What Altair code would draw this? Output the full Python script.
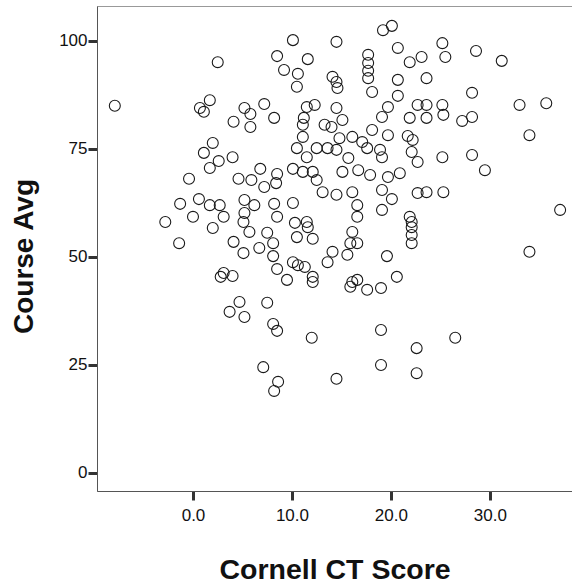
import altair as alt
import pandas as pd

# Cornell CT Score (x) and Course Avg (y)
cornell = [
    -7.9, 2.5, 1.7, 0.7, 1.1, 5.2, 5.8, 7.2, 8.2, 4.1, 5.8, 2.0, 1.1, 2.6, 4.0, 1.7,
    -0.4, 4.6, 5.9, 6.8, 7.2, 8.5, 8.4, -1.3, 0.6, 1.7, 2.7, 0.0, -2.8, 3.1, 2.0, 5.2,
    6.2, 5.2, 5.1, 5.7, 8.2, 8.5, -1.4, 4.1, 6.7, 7.5, 8.1, 5.1, 8.1, 8.5, 2.8, 3.1,
    4.0, 4.7, 3.7, 5.2, 7.5, 8.1, 8.5, 7.1, 8.6, 8.2, 8.5, 9.2, 9.5,
    10.1, 11.6, 10.6, 10.5, 11.5, 12.3, 11.2, 11.1, 11.1, 10.5, 12.5, 13.6, 13.3, 14.0,
    10.1, 11.5, 11.1, 12.1, 12.5, 13.1, 10.1, 10.3, 11.5, 11.6, 10.5, 12.1, 10.1, 10.6,
    11.3, 12.1, 12.1, 13.6, 14.1, 12.0,
    14.5, 19.2, 20.1, 14.1, 14.5, 14.6, 17.7, 17.7, 17.7, 17.7, 18.1, 20.7, 20.7, 20.7,
    19.7, 19.1, 18.1, 19.7, 14.5, 15.1, 14.8, 16.1, 17.1, 14.5, 15.7, 17.6, 18.9, 19.1,
    16.7, 15.1, 17.9, 19.7, 20.9, 19.1, 20.1, 14.5, 16.1, 16.6, 19.1, 16.6, 16.1, 15.9,
    16.6, 15.6, 19.6, 20.6, 16.1, 16.6, 15.9, 17.6, 19.0, 19.0, 19.0, 14.5,
    21.9, 23.1, 25.2, 25.5, 23.6, 28.6, 31.2, 21.9, 22.7, 23.6, 23.6, 25.2, 25.3, 21.7,
    22.2, 22.1, 22.7, 25.2, 22.7, 23.6, 25.3, 21.9, 22.1, 22.1, 22.1, 22.1, 28.2, 27.2,
    28.2, 33.0, 35.7, 34.0, 28.2, 29.5, 37.1, 34.0, 26.5, 22.6, 22.6,
]
course_avg = [
    85.0, 95.1, 86.3, 84.5, 83.6, 84.5, 83.1, 85.4, 82.2, 81.3, 80.1, 76.4, 74.1, 72.2, 73.1, 70.6,
    68.1, 68.1, 67.8, 70.4, 66.2, 69.2, 67.1, 62.3, 63.4, 62.0, 62.0, 59.3, 58.1, 59.3, 56.7, 63.2,
    62.0, 60.2, 58.1, 55.8, 62.3, 59.3, 53.2, 53.5, 52.1, 55.6, 53.2, 50.9, 50.2, 47.2, 45.4, 46.3,
    45.6, 39.6, 37.3, 36.1, 39.4, 34.5, 32.9, 24.5, 21.1, 19.0, 96.5, 93.3, 44.7,
    100.2, 95.8, 92.4, 89.4, 84.7, 85.2, 82.2, 80.6, 77.8, 75.2, 75.2, 75.2, 80.6, 80.1,
    70.4, 73.1, 69.7, 69.7, 67.8, 65.0, 62.5, 57.9, 58.1, 56.9, 54.6, 54.2, 48.8, 48.1,
    47.7, 45.4, 44.2, 48.8, 51.2, 31.3,
    99.8, 102.5, 103.5, 91.7, 90.5, 89.1, 96.8, 94.9, 93.1, 91.4, 88.2, 98.4, 91.0, 87.3,
    84.7, 82.4, 79.4, 78.2, 84.5, 81.7, 77.5, 77.8, 76.6, 74.8, 72.9, 75.2, 74.8, 73.1,
    70.1, 69.7, 69.0, 68.5, 69.4, 65.5, 63.4, 64.4, 65.0, 62.0, 60.9, 59.3, 55.8, 53.2,
    53.2, 50.5, 50.2, 45.4, 44.2, 44.7, 43.1, 42.4, 42.8, 33.1, 25.0, 21.8,
    95.1, 96.3, 99.5, 96.3, 91.4, 97.7, 95.4, 82.2, 85.2, 85.2, 82.2, 85.2, 82.9, 78.0,
    77.1, 74.3, 72.0, 73.1, 64.8, 65.0, 65.0, 59.3, 58.1, 56.9, 55.1, 53.2, 88.0, 81.5,
    82.4, 85.2, 85.6, 78.2, 73.6, 70.1, 60.9, 51.2, 31.3, 28.9, 23.1,
]

x_ticks = [0, 10, 20, 30]
y_ticks = [0, 25, 50, 75, 100]

df = pd.DataFrame({"Cornell CT Score": cornell, "Course Avg": course_avg})

FONT = "Liberation Sans"

chart = (
    alt.Chart(df)
    .mark_point(shape="circle", filled=False, size=120, color="#1a1a1a", strokeWidth=1.1, opacity=1)
    .encode(
        x=alt.X(
            "Cornell CT Score:Q",
            scale=alt.Scale(domain=[-9.7, 38.3], nice=False, zero=False),
            axis=alt.Axis(
                values=x_ticks, format=".1f", grid=False,
                tickSize=9, tickWidth=3, tickColor="#333", domainColor="#555", domainWidth=1,
                labelFont=FONT, labelFontSize=17, labelColor="#111", labelPadding=7,
                title="Cornell CT Score", titleFont=FONT, titleFontSize=28.5, titleFontWeight="bold",
                titleColor="#111", titleBaseline="alphabetic", titleY=87,
            ),
        ),
        y=alt.Y(
            "Course Avg:Q",
            scale=alt.Scale(domain=[-4.17, 108.1], nice=False, zero=False),
            axis=alt.Axis(
                values=y_ticks, format="d", grid=False,
                tickSize=9, tickWidth=3, tickColor="#333", domainColor="#555", domainWidth=1,
                labelFont=FONT, labelFontSize=17, labelColor="#111", labelPadding=1,
                title="Course Avg", titleFont=FONT, titleFontSize=28, titleFontWeight="bold",
                titleColor="#111", titleBaseline="alphabetic", titleX=-65, titleY=250,
            ),
        ),
    )
    .properties(
        width=475,
        height=485,
        autosize=alt.AutoSizeParams(type="none"),
        padding={"left": 97, "top": 6, "right": 0, "bottom": 97},
        background="white",
    )
    .configure_view(stroke="#999", strokeWidth=1)
)

chart.save("out.html", embed_options={"renderer": "svg", "actions": False})
